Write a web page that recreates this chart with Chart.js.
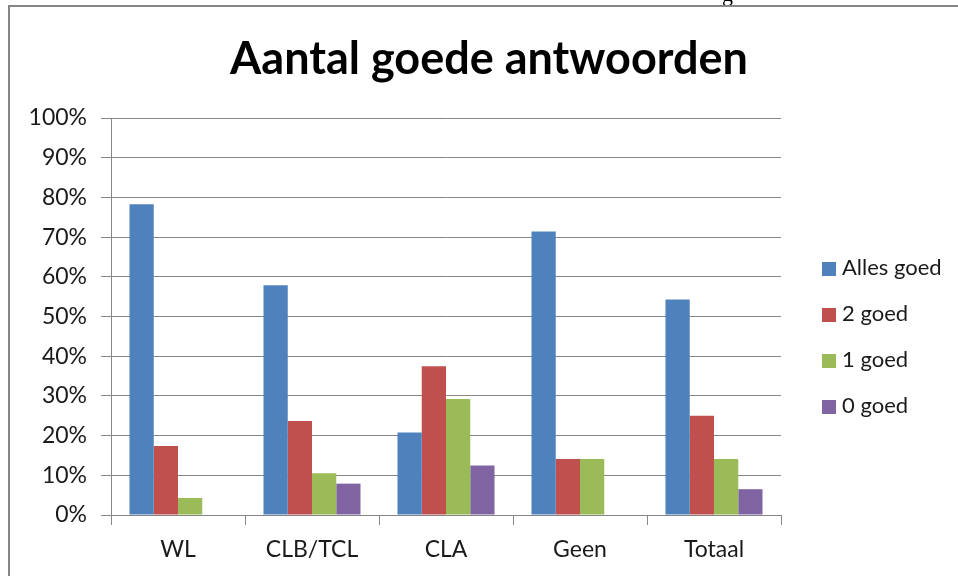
<!DOCTYPE html>
<html>
<head>
<meta charset="utf-8">
<script src="https://cdn.jsdelivr.net/npm/chart.js@4.4.1/dist/chart.umd.min.js"></script>
<style>
  html, body { margin: 0; padding: 0; background: #fff; }
  #wrap { position: relative; width: 958px; height: 576px; overflow: hidden; }
  #frame { position: absolute; left: 8px; top: 5px; right: -4px; bottom: -4px; border-top: 2px solid #868686; border-left: 2px solid #868686; pointer-events: none; }
  #frag { position: absolute; left: 722px; top: 0; width: 20px; height: 5px; overflow: hidden; }
  #frag span { position: absolute; top: -17px; left: 0; font-family: "Liberation Serif", serif; font-size: 22px; line-height: 22px; color: #000; }
  canvas { position: absolute; left: 0; top: 0; }
</style>
</head>
<body>
<div id="wrap">
  <canvas id="c" width="958" height="576"></canvas>
  <div id="frame"></div>
  <div id="frag"><span>g</span></div>
</div>
<script>
const chartTitle = 'Aantal goede antwoorden';
const categories = ['WL', 'CLB/TCL', 'CLA', 'Geen', 'Totaal'];
const seriesNames = ['Alles goed', '2 goed', '1 goed', '0 goed'];
const allesGoed = [78.3, 57.9, 20.8, 71.4, 54.3];
const tweeGoed  = [17.4, 23.7, 37.5, 14.1, 25.0];
const eenGoed   = [4.3, 10.5, 29.2, 14.1, 14.1];
const nulGoed   = [0, 7.9, 12.5, 0, 6.5];
const yTickValues = [0, 10, 20, 30, 40, 50, 60, 70, 80, 90, 100];
const seriesColors = ['#4F81BD', '#C0504D', '#9BBB59', '#8064A2'];

const FONT = 'Lato';
const TEXT = '#1a1a1a';
const GRID = '#868686';

const titlePlugin = {
  id: 'customTitle',
  afterDraw(chart) {
    const ctx = chart.ctx;
    ctx.save();
    ctx.font = 'bold 45px ' + FONT;
    ctx.fillStyle = '#000';
    ctx.textAlign = 'center';
    ctx.textBaseline = 'alphabetic';
    ctx.fillText(chartTitle, 489, 74);
    ctx.restore();
  }
};

const legendPlugin = {
  id: 'customLegend',
  afterDraw(chart) {
    const ctx = chart.ctx;
    ctx.save();
    ctx.font = '22px ' + FONT;
    ctx.textAlign = 'left';
    ctx.textBaseline = 'middle';
    chart.data.datasets.forEach((ds, i) => {
      const y = 262 + i * 46;
      ctx.fillStyle = ds.backgroundColor;
      ctx.fillRect(822, y, 14, 14);
      ctx.fillStyle = TEXT;
      ctx.fillText(ds.label, 842, y + 6);
    });
    ctx.restore();
  }
};

const seriesData = [allesGoed, tweeGoed, eenGoed, nulGoed];

new Chart(document.getElementById('c'), {
  type: 'bar',
  data: {
    labels: categories,
    datasets: seriesNames.map((name, i) => ({
      label: name,
      data: seriesData[i],
      backgroundColor: seriesColors[i],
      borderWidth: 0,
      categoryPercentage: 0.724,
      barPercentage: 1.0
    }))
  },
  options: {
    responsive: false,
    animation: false,
    layout: { padding: { top: 118, right: 177, left: 0, bottom: 0 } },
    plugins: {
      legend: { display: false },
      title: { display: false },
      tooltip: { enabled: false }
    },
    scales: {
      x: {
        grid: { display: true, drawOnChartArea: false, drawTicks: true, tickLength: 10, color: GRID, offset: true },
        border: { display: true, color: GRID, width: 1 },
        ticks: { font: { family: FONT, size: 23 }, color: TEXT, padding: 11, maxRotation: 0 },
        afterFit(s) { s.height = 61; }
      },
      y: {
        min: 0,
        max: 100,
        afterBuildTicks(s) { s.ticks = yTickValues.map(v => ({ value: v })); },
        grid: { color: GRID, tickLength: 10, drawTicks: true },
        border: { display: true, color: GRID, width: 1 },
        ticks: { font: { family: FONT, size: 23 }, color: TEXT, padding: 14, callback: v => v + '%' },
        afterFit(s) { s.width = 111; }
      }
    }
  },
  plugins: [titlePlugin, legendPlugin]
});
</script>
</body>
</html>
